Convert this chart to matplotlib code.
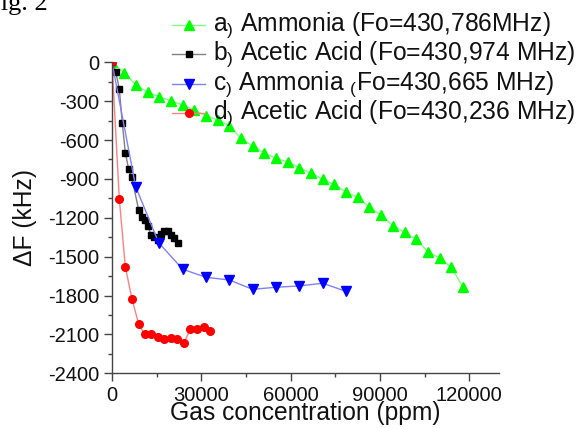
import matplotlib
matplotlib.use("Agg")
from matplotlib import pyplot as plt
from matplotlib.lines import Line2D
from matplotlib.ticker import MultipleLocator

plt.rcParams["font.family"] = ["Liberation Sans", "DejaVu Sans"]
plt.rcParams["mathtext.fontset"] = "custom"
plt.rcParams["mathtext.rm"] = "Liberation Sans"

# a) Ammonia (Fo=430,786MHz)
ammonia_a_ppm = [0, 4130, 8060, 11990, 15880, 19810, 23740, 27640, 31570, 35490,
                 39390, 43320, 47250, 51140, 55070, 59000, 62800, 66830, 70750, 74650,
                 78580, 82510, 86400, 90330, 94360, 98290, 102180, 106110, 110040,
                 113940, 117870]
ammonia_a_df = [0, -80, -175, -232, -265, -299, -330, -368, -412, -445,
                -489, -587, -646, -700, -741, -769, -813, -854, -903, -941,
                -1003, -1042, -1117, -1178, -1261, -1312, -1366, -1462, -1510,
                -1582, -1732]

# b) Acetic Acid (Fo=430,974 MHz)
acetic_b_ppm = [0, 1240, 2450, 3460, 4470, 5610, 6620, 8970, 9970, 10980,
                12090, 13100, 14210, 15350, 16350, 17460, 18910, 19950, 20820, 22160]
acetic_b_df = [0, -72, -204, -471, -698, -826, -888, -1140, -1191, -1217,
               -1263, -1335, -1350, -1371, -1325, -1300, -1300, -1333, -1358, -1397]

# c) Ammonia (Fo=430,665 MHz)
ammonia_c_ppm = [0, 7950, 15680, 23740, 31570, 39390, 47250, 55070, 62900, 70750, 78580]
ammonia_c_df = [0, -960, -1392, -1597, -1659, -1680, -1752, -1736, -1726, -1705, -1767]

# d) Acetic Acid (Fo=430,236 MHz)
acetic_d_ppm = [0, 2450, 4470, 6720, 8970, 10980, 13200, 15450, 17560, 19810,
                21930, 24180, 26290, 28540, 30790, 32910]
acetic_d_df = [0, -1052, -1577, -1829, -2020, -2099, -2099, -2117, -2135, -2130,
               -2133, -2164, -2061, -2056, -2040, -2074]

x_ticks = [0, 30000, 60000, 90000, 120000]
y_ticks = [-2400, -2100, -1800, -1500, -1200, -900, -600, -300, 0]

labels = [
    r"a$_\mathregular{)}$ Ammonia (Fo=430,786MHz)",
    r"b$_\mathregular{)}$ Acetic Acid (Fo=430,974 MHz)",
    r"c$_\mathregular{)}$ Ammonia $_\mathregular{(}$Fo=430,665 MHz)",
    r"d$_\mathregular{)}$ Acetic Acid (Fo=430,236 MHz)",
]

W, H = 577, 428
fig = plt.figure(figsize=(W / 100, H / 100), dpi=100)
ax = fig.add_axes([112 / W, 1 - 373.3 / H, 387 / W, 311 / H])

styles = [
    dict(color="#80ff80", marker="^", ms=6.5, mfc="#00ff00", mec="#00ff00"),
    dict(color="#808080", marker="s", ms=5, mfc="black", mec="black"),
    dict(color="#8080ff", marker="v", ms=6.5, mfc="#0000ff", mec="#0000ff"),
    dict(color="#ff8080", marker="o", ms=5.5, mfc="#ff0000", mec="#ff0000"),
]
series = [
    (ammonia_a_ppm, ammonia_a_df),
    (acetic_b_ppm, acetic_b_df),
    (ammonia_c_ppm, ammonia_c_df),
    (acetic_d_ppm, acetic_d_df),
]
for (xs, ys), st in zip(series, styles):
    ax.plot(xs, ys, lw=1, **st)

ax.set_xlim(0, 130000)
ax.set_ylim(-2400, 0)
ax.set_xticks(x_ticks)
ax.set_xticklabels([str(v) for v in x_ticks])
ax.xaxis.set_minor_locator(MultipleLocator(15000))
ax.set_yticks(y_ticks)
ax.set_yticklabels([str(v) for v in y_ticks])
ax.yaxis.set_minor_locator(MultipleLocator(150))

for side in ("top", "right"):
    ax.spines[side].set_visible(False)
for side in ("left", "bottom"):
    ax.spines[side].set_color("#444444")
    ax.spines[side].set_linewidth(1)

ax.tick_params(which="major", direction="out", length=6, width=1, color="#444444",
               labelsize=14.5, labelcolor="#111111", pad=3)
ax.tick_params(which="minor", direction="out", length=3, width=1, color="#444444")

ax.set_xlabel("Gas concentration (ppm)", fontsize=17.7, color="#111111", va="baseline")
ax.set_ylabel("ΔF (kHz)", fontsize=17.7, color="#111111", va="center")
ax.xaxis.set_label_coords(0.5, -0.15)
ax.yaxis.set_label_coords(-0.225, 0.5)

# legend drawn by hand so the rows sit where the original ones do
row_y = [25, 54, 84, 113]
for y, st, lab in zip(row_y, styles, labels):
    fy = 1 - y / H
    fig.add_artist(Line2D([172 / W, 205 / W], [fy, fy], transform=fig.transFigure,
                          lw=1, color=st["color"]))
    fig.add_artist(Line2D([188.5 / W], [fy], transform=fig.transFigure, ls="none",
                          marker=st["marker"], ms=st["ms"], mfc=st["mfc"], mec=st["mec"]))
    fig.text(213 / W, 1 - (y + 5.5) / H, lab, fontsize=17.7, color="#111111",
             ha="left", va="baseline")

fig.text(48 / W, 1 - 10 / H, "Fig. 2", family="Liberation Serif", fontsize=19,
         ha="right", va="baseline")

fig.savefig("out.png", dpi=100)
